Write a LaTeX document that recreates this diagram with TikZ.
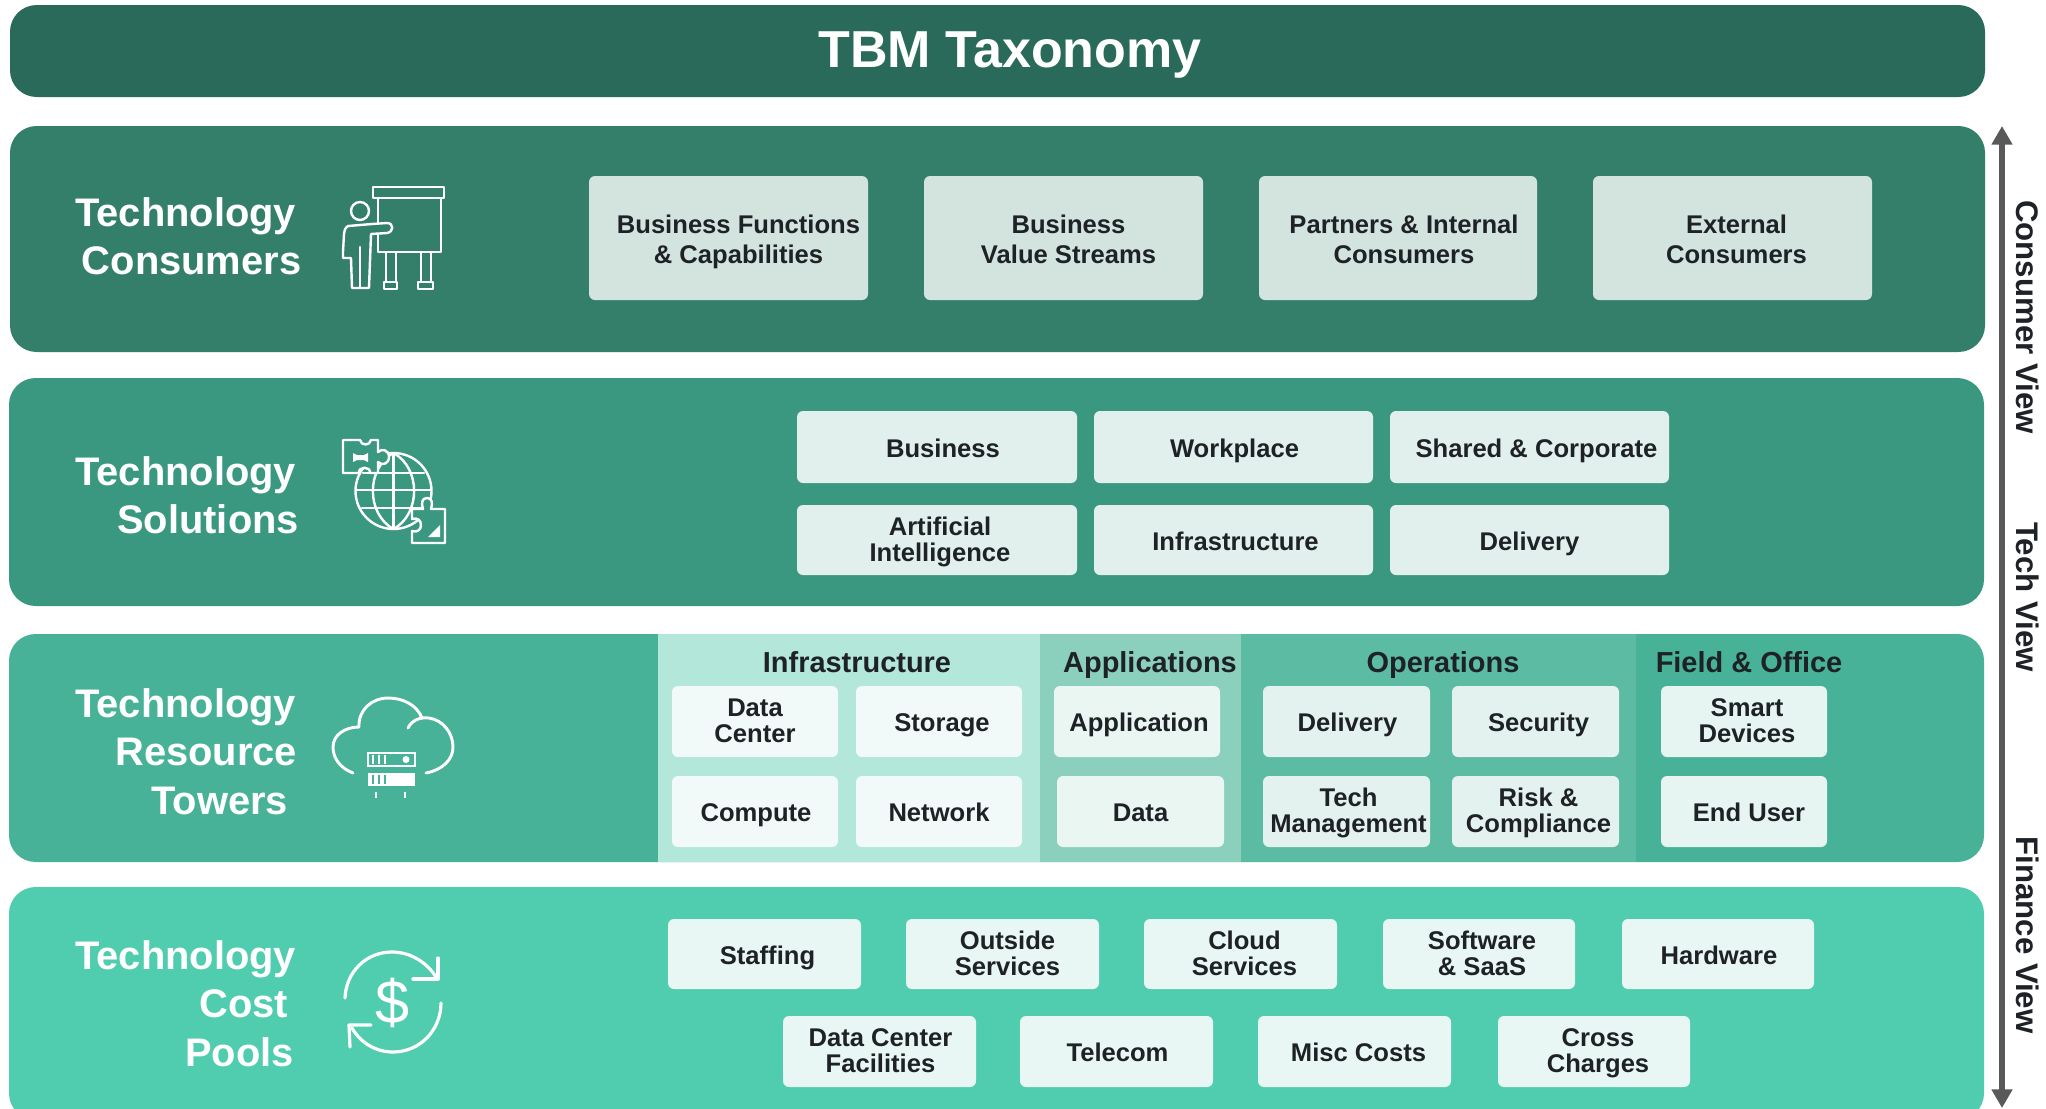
\documentclass[tikz,border=0pt]{standalone}
\usepackage{fontspec}
\setmainfont{Liberation Sans}
\usetikzlibrary{arrows.meta,calc}
\definecolor{cTitle}{HTML}{2A6A5A}
\definecolor{cCons}{HTML}{337F6A}
\definecolor{cSol}{HTML}{3A9880}
\definecolor{cRes}{HTML}{47B297}
\definecolor{cCost}{HTML}{50CCAE}
\definecolor{bCons}{HTML}{D3E3DE}
\definecolor{bSol}{HTML}{E1F0EC}
\definecolor{bInf}{HTML}{F1FAF8}
\definecolor{bApp}{HTML}{E9F6F2}
\definecolor{bOps}{HTML}{E3F2EE}
\definecolor{bFld}{HTML}{E6F5F1}
\definecolor{bCost}{HTML}{E8F7F3}
\definecolor{sInf}{HTML}{B2E7D9}
\definecolor{sApp}{HTML}{8BD0BC}
\definecolor{sOps}{HTML}{5CBBA3}
\definecolor{cInk}{HTML}{1E2226}
\definecolor{cAxis}{HTML}{595959}
\tikzset{
  rectnode/.style={inner sep=0pt,outer sep=0pt,draw=none,rectangle},
  bandbox/.style={rectnode,rounded corners=20pt},
  cellbox/.style={rectnode,rounded corners=4.5pt},
  secbox/.style={rectnode},
  boxtext/.style={inner sep=0pt,align=center,text=cInk,yshift=-.4pt,font=\fontsize{19.2pt}{19.5pt}\selectfont\bfseries},
  boxone/.style={boxtext,yshift=-1.5pt},
  boxtextwide/.style={boxtext,yshift=-1.5pt,font=\fontsize{19.2pt}{22.5pt}\selectfont\bfseries},
  headtext/.style={inner sep=0pt,align=center,text=cInk,font=\fontsize{21.7pt}{24pt}\selectfont\bfseries},
  bandtext/.style={inner sep=0pt,align=left,anchor=north west,text=white,font=\fontsize{29.9pt}{36.5pt}\selectfont\bfseries},
  viewtext/.style={inner sep=0pt,rotate=-90,text=cInk,font=\fontsize{23.4pt}{28pt}\selectfont\bfseries},
  icon/.style={draw=white,line width=1.8pt,line cap=round,line join=round},
}
\newcommand{\RectAt}[6]{% name, style, x1,y1,x2,y2
  \pgfmathsetmacro{\rcx}{(#3+#5)/2}\pgfmathsetmacro{\rcy}{(#4+#6)/2}
  \pgfmathsetmacro{\rw}{(#5-#3)*.75}\pgfmathsetmacro{\rh}{(#6-#4)*.75}
  \node[#2,minimum width=\rw pt,minimum height=\rh pt] (#1) at (\rcx,\rcy) {};}
\newcommand{\Cell}[9]{% name, fill, x1,y1,x2,y2, dx, textstyle, text
  \RectAt{#1}{cellbox,fill=#2}{#3}{#4}{#5}{#6}
  \node[#8] (#1t) at ($(#1.center)+(#7,1)$) {\vphantom{Ag}#9\vphantom{Ag}};}
\newcommand{\Head}[3]{\node[headtext] (#1) at (#2,665.5) {\vphantom{Ag}#3\vphantom{Ag}};}
\begin{document}
\begin{tikzpicture}[x=.75pt,y=-.75pt]
\useasboundingbox (0,0) rectangle (2046,1108);
\clip (0,0) rectangle (2046,1108);
\fill[white] (0,0) rectangle (2046,1108);
% bands
\RectAt{title}{bandbox,fill=cTitle}{10}{5}{1985}{97}
\RectAt{cons}{bandbox,fill=cCons}{10}{126}{1985}{352}
\RectAt{sol}{bandbox,fill=cSol}{9}{378}{1984}{606}
\RectAt{res}{bandbox,fill=cRes}{9}{634}{1984}{862}
\RectAt{cost}{bandbox,fill=cCost}{9}{887}{1984}{1120}
\node[inner sep=0pt,text=white,font=\fontsize{39pt}{44pt}\selectfont\bfseries] (titlet) at (1010,55) {TBM Taxonomy};
% sections
\RectAt{sinf}{secbox,fill=sInf}{658}{634}{1040}{862}
\RectAt{sapp}{secbox,fill=sApp}{1040}{634}{1241}{862}
\RectAt{sops}{secbox,fill=sOps}{1241}{634}{1636}{862}
\Head{hinf}{857}{Infrastructure}
\Head{happ}{1150}{Applications}
\Head{hops}{1443}{Operations}
\Head{hfld}{1749}{Field \& Office}
% band labels
\node[bandtext] (lcons) at (75,197) {Technology\\\hspace*{5pt}Consumers};
\node[bandtext] (lsol) at (75,456) {Technology\\\hspace*{31.5pt}Solutions};
\node[bandtext] (lres) at (75,688) {Technology\\\hspace*{30pt}Resource\\\hspace*{57pt}Towers};
\node[bandtext] (lcost) at (75,940) {Technology\\\hspace*{93pt}Cost\\\hspace*{82.5pt}Pools};
% consumers
\Cell{c1}{bCons}{589}{176}{868}{300}{10}{boxtextwide}{Business Functions\\\& Capabilities}
\Cell{c2}{bCons}{924}{176}{1203}{300}{5}{boxtextwide}{Business\\Value Streams}
\Cell{c3}{bCons}{1259}{176}{1537}{300}{6}{boxtextwide}{Partners \& Internal\\Consumers}
\Cell{c4}{bCons}{1593}{176}{1872}{300}{4}{boxtextwide}{External\\Consumers}
% solutions
\Cell{s1}{bSol}{797}{411}{1077}{483}{6}{boxone}{Business}
\Cell{s2}{bSol}{1094}{411}{1373}{483}{1}{boxone}{Workplace}
\Cell{s3}{bSol}{1390}{411}{1669}{483}{7}{boxone}{Shared \& Corporate}
\Cell{s4}{bSol}{797}{505}{1077}{575}{3}{boxtext}{Artificial\\Intelligence}
\Cell{s5}{bSol}{1094}{505}{1373}{575}{2}{boxone}{Infrastructure}
\Cell{s6}{bSol}{1390}{505}{1669}{575}{0}{boxone}{Delivery}
% resource towers
\Cell{r1}{bInf}{672}{686}{838}{757}{0}{boxtext}{Data\\Center}
\Cell{r2}{bInf}{856}{686}{1022}{757}{3}{boxone}{Storage}
\Cell{r3}{bInf}{672}{776}{838}{847}{1}{boxone}{Compute}
\Cell{r4}{bInf}{856}{776}{1022}{847}{0}{boxone}{Network}
\Cell{r5}{bApp}{1054}{686}{1220}{757}{2}{boxone}{Application}
\Cell{r6}{bApp}{1057}{776}{1224}{847}{0}{boxone}{Data}
\Cell{r7}{bOps}{1263}{686}{1430}{757}{1}{boxone}{Delivery}
\Cell{r8}{bOps}{1452}{686}{1619}{757}{3}{boxone}{Security}
\Cell{r9}{bOps}{1263}{776}{1430}{847}{2}{boxtext}{Tech\\Management}
\Cell{r10}{bOps}{1452}{776}{1619}{847}{3}{boxtext}{Risk \&\\Compliance}
\Cell{r11}{bFld}{1661}{686}{1827}{757}{3}{boxtext}{Smart\\Devices}
\Cell{r12}{bFld}{1661}{776}{1827}{847}{5}{boxone}{End User}
% cost pools
\Cell{k1}{bCost}{668}{919}{861}{989}{3}{boxone}{Staffing}
\Cell{k2}{bCost}{906}{919}{1099}{989}{5}{boxtext}{Outside\\Services}
\Cell{k3}{bCost}{1144}{919}{1337}{989}{4}{boxtext}{Cloud\\Services}
\Cell{k4}{bCost}{1383}{919}{1575}{989}{3}{boxtext}{Software\\\& SaaS}
\Cell{k5}{bCost}{1622}{919}{1814}{989}{1}{boxone}{Hardware}
\Cell{k6}{bCost}{783}{1016}{976}{1087}{1}{boxtext}{Data Center\\Facilities}
\Cell{k7}{bCost}{1020}{1016}{1213}{1087}{1}{boxone}{Telecom}
\Cell{k8}{bCost}{1258}{1016}{1451}{1087}{4}{boxone}{Misc Costs}
\Cell{k9}{bCost}{1498}{1016}{1690}{1087}{4}{boxtext}{Cross\\Charges}
% axis
\coordinate (axtop) at (2002,126);
\coordinate (axbot) at (2002,1108);
\draw[cAxis,line width=3.8pt,{Triangle[width=15pt,length=14pt]}-{Triangle[width=15pt,length=14pt]}] (axtop) -- (axbot);
\node[viewtext] (v1) at (2024,317) {Consumer View\vphantom{Ag}};
\node[viewtext] (v2) at (2024,597) {Tech View\vphantom{Ag}};
\node[viewtext] (v3) at (2024,935) {Finance View\vphantom{Ag}};
% icon: presenter
\draw[icon] (373,187) rectangle (444,198);
\draw[icon] (378,198) -- (378,252) -- (441,252) -- (441,198);
\draw[icon] (386,252) -- (386,282) (396,252) -- (396,282) (421,252) -- (421,282) (431,252) -- (431,282);
\draw[icon] (384,282) rectangle (397,289) (418,282) rectangle (433,289);
\draw[icon,fill=cCons] (348,226) .. controls (345,228) and (344,231) .. (344,234) -- (343,252) -- (343,258) -- (351,258) -- (352,288) -- (369,288) -- (371,234) -- (387,233) .. controls (394,232) and (394,223) .. (387,223) -- (372,224) -- cycle;
\draw[icon] (360,247) -- (360,288);
\draw[icon,fill=cCons] (360,211) circle[radius=9];
% icon: puzzle and globe
\begin{scope}[icon]
\draw (393.5,491) circle[radius=38];
\draw (393.5,453) -- (393.5,529);
\draw (357,490) -- (431,490);
\draw (363,473) -- (424,473);
\draw (362,508) -- (425,508);
\draw (393.5,453) .. controls (366,468) and (366,514) .. (393.5,529);
\draw (393.5,453) .. controls (421,468) and (421,514) .. (393.5,529);
\draw[fill=cSol] (343,440) -- (360,440) .. controls (361,446) and (370,446) .. (371,440) -- (378,440) -- (378,452) .. controls (382,448) and (389,450) .. (389,457) .. controls (389,464) and (382,466) .. (378,462) -- (378,473) -- (370,473) .. controls (371,466) and (358,466) .. (359,473) -- (343,473) -- cycle;
\fill[white,draw=none] (353,453) -- (357,455) -- (364,455) -- (368,453) -- (368,462) -- (364,460) -- (357,460) -- (353,462) -- cycle;
\draw[fill=cSol] (412,509) -- (423,509) .. controls (421,503) and (422,498) .. (427,498) .. controls (432,498) and (433,503) .. (431,509) -- (445,509) -- (445,543) -- (412,543) -- (412,531) .. controls (418,533) and (421,529) .. (421,525) .. controls (421,521) and (418,517) .. (412,519) -- cycle;
\end{scope}
\fill[white] (440,525) -- (440,537) -- (428,537) -- cycle;
% icon: cloud
\begin{scope}[icon,line width=2.2pt]
\draw (353,773) .. controls (340,768) and (333,758) .. (333,747) .. controls (333,735) and (345,727) .. (359,727) .. controls (358,710) and (372,698) .. (388,698) .. controls (403,698) and (417,705) .. (422,718);
\draw (408,728) .. controls (412,720) and (420,717) .. (429,718) .. controls (443,720) and (453,733) .. (453,747) .. controls (453,760) and (442,770) .. (426,773);
\end{scope}
\draw[white,line width=1.2pt] (368,753) rectangle (415,766);
\fill[white] (368,773) rectangle (415,786);
\fill[white] (406,759.5) circle[radius=3.5];
\foreach \bx in {373,379,385}{\draw[white,line width=1.2pt] (\bx,755) -- (\bx,764);\draw[cRes,line width=1.2pt] (\bx,775) -- (\bx,784);}
\draw[white,line width=1.6pt] (376,792) -- (376,798) (405,792) -- (405,798);
% icon: dollar cycle
\begin{scope}[icon,line width=2.4pt]
\draw (345,998) .. controls (346,972) and (366,952) .. (392,952) .. controls (412,952) and (428,964) .. (436,977);
\draw (438,958) -- (438,979) -- (413,979);
\draw (441,1003) .. controls (441,1030) and (420,1052) .. (393,1052) .. controls (375,1052) and (360,1042) .. (352,1028);
\draw (371,1025) -- (349,1025) -- (350,1047);
\end{scope}
\node[inner sep=0pt,text=white,font=\fontsize{46pt}{46pt}\selectfont] (dollar) at (393,1003) {\$};
\end{tikzpicture}
\end{document}
